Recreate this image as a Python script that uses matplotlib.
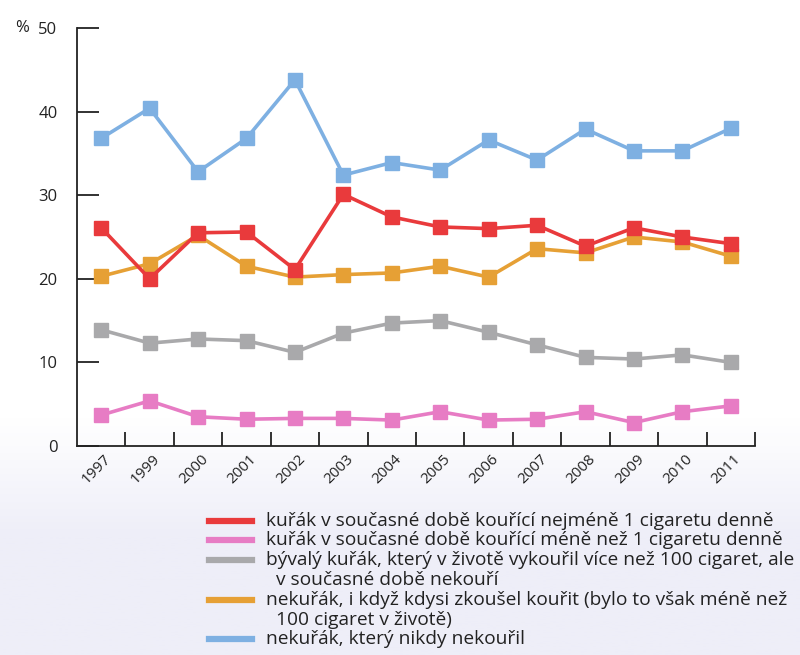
import numpy as np
import matplotlib
matplotlib.use("Agg")
import matplotlib.pyplot as plt
from matplotlib.lines import Line2D
from matplotlib.transforms import ScaledTranslation

plt.rcParams['font.family'] = ['Open Sans', 'DejaVu Sans']

years = ["1997", "1999", "2000", "2001", "2002", "2003", "2004",
         "2005", "2006", "2007", "2008", "2009", "2010", "2011"]

daily_smokers = [26.1, 20.0, 25.5, 25.6, 21.1, 30.1, 27.4, 26.2, 26.0, 26.4, 23.9, 26.1, 25.0, 24.2]
occasional = [3.7, 5.4, 3.5, 3.2, 3.3, 3.3, 3.1, 4.1, 3.1, 3.2, 4.1, 2.8, 4.1, 4.8]
former = [13.9, 12.3, 12.8, 12.6, 11.2, 13.5, 14.7, 15.0, 13.6, 12.1, 10.6, 10.4, 10.9, 10.0]
tried = [20.3, 21.8, 25.2, 21.5, 20.2, 20.5, 20.7, 21.5, 20.2, 23.6, 23.1, 25.0, 24.4, 22.7]
never = [36.8, 40.4, 32.8, 36.8, 43.8, 32.4, 33.9, 33.0, 36.6, 34.2, 37.9, 35.3, 35.3, 38.0]

labels = [
    "kuřák v současné době kouřící nejméně 1 cigaretu denně",
    "kuřák v současné době kouřící méně než 1 cigaretu denně",
    "bývalý kuřák, který v životě vykouřil více než 100 cigaret, ale\n  v současné době nekouří",
    "nekuřák, i když kdysi zkoušel kouřit (bylo to však méně než\n  100 cigaret v životě)",
    "nekuřák, který nikdy nekouřil",
]
colors = ["#e93a3c", "#e77cc4", "#a9a9ab", "#e6a035", "#7eb0e2"]

fig = plt.figure(figsize=(8, 6.55), dpi=100)

# pale lavender haze along the lower part of the page
bg = fig.add_axes([0, 0, 1, 1], zorder=-5)
grad = np.linspace(0, 1, 256)
grad = np.clip((grad - 0.18) / 0.18, 0, 1)[:, None]
bg.imshow(grad, aspect='auto', extent=[0, 1, 0, 1], origin='lower',
          cmap=matplotlib.colors.LinearSegmentedColormap.from_list(
              "haze", ["#eeeef8", "#ffffff"]))
bg.axis('off')

ax = fig.add_axes([0.09625, 0.3191, 0.8475, 0.6382])
ax.patch.set_alpha(0)
x = np.arange(len(years))
series = [daily_smokers, occasional, former, tried, never]
for vals, c in zip(series[::-1], colors[::-1]):
    ax.plot(x, vals, color=c, lw=2.6, marker='s', ms=9.5,
            markeredgecolor=c, markerfacecolor=c)

ax.set_xlim(-0.5, 13.5)
ax.set_ylim(0, 50)
for s in ['top', 'right']:
    ax.spines[s].set_visible(False)
for s in ['left', 'bottom']:
    ax.spines[s].set_linewidth(1.3)
    ax.spines[s].set_color('#222222')

ax.set_yticks([0, 10, 20, 30, 40, 50])
ax.tick_params(axis='y', direction='in', length=16, width=1.3,
               labelsize=12, pad=14, colors='#222222')
ax.set_xticks(x)
ax.set_xticklabels(years)
ax.set_xticks(np.arange(0.5, 14, 1), minor=True)
ax.tick_params(axis='x', which='major', length=0, labelsize=11, pad=8,
               colors='#222222')
ax.tick_params(axis='x', which='minor', direction='in', length=10, width=1.3,
               colors='#222222')
offset = ScaledTranslation(8 / 100, 0, fig.dpi_scale_trans)
for lab in ax.get_xticklabels():
    lab.set_rotation(45)
    lab.set_ha('right')
    lab.set_va('center')
    lab.set_rotation_mode('anchor')
    lab.set_transform(lab.get_transform() + offset)

fig.text(22 / 800, 1 - 28 / 655, "%", fontsize=12, ha='center', va='center',
         color='#222222')

# legend block below the chart
rows = [521, 540, 560, 600, 639]
for lab, c, yy in zip(labels, colors, rows):
    fy = 1 - yy / 655
    fig.add_artist(Line2D([209 / 800, 252 / 800], [fy, fy], color=c, lw=4.5,
                          transform=fig.transFigure))
    first, *rest = lab.split("\n")
    fig.text(266 / 800, fy, first, fontsize=13.8, va='center', ha='left',
             color='#222222')
    for k, line in enumerate(rest):
        fig.text(266 / 800, fy - (k + 1) * 20 / 655, line, fontsize=13.8,
                 va='center', ha='left', color='#222222')

fig.savefig("out.png", dpi=100)
